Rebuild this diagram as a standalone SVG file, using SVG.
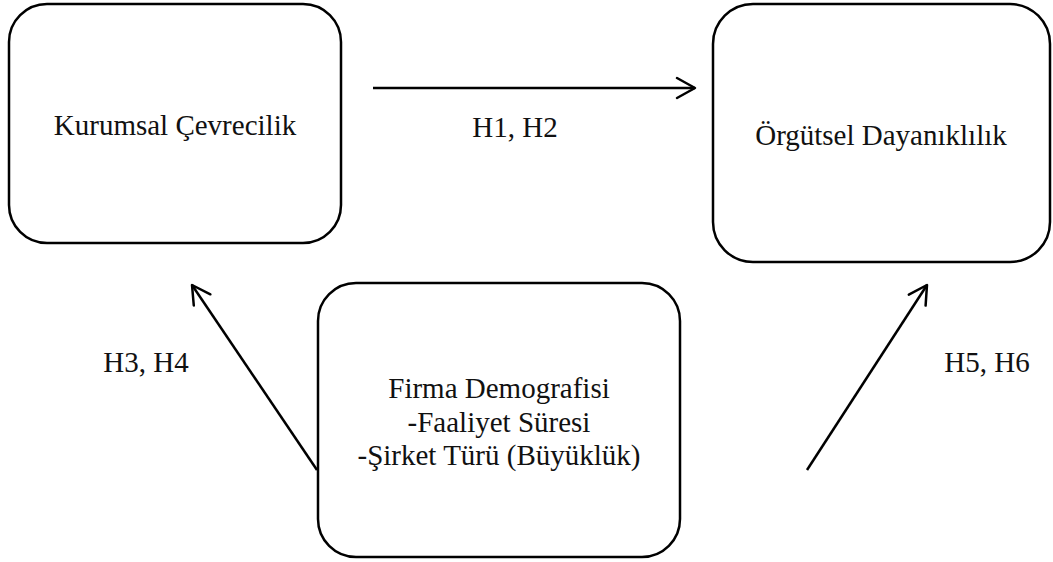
<svg xmlns="http://www.w3.org/2000/svg" width="1053" height="562" viewBox="0 0 1053 562">
<style>
.box{fill:#fff;stroke:#000;stroke-width:2.5}
.t{font-family:"Liberation Serif","Times New Roman",serif;font-size:29px;fill:#111;text-anchor:middle}
.c{fill:none;stroke:#000;stroke-width:2.5}
</style>
<defs>
<marker id="ah" markerUnits="userSpaceOnUse" markerWidth="24" markerHeight="24" refX="20" refY="11" orient="auto" viewBox="0 0 24 22">
<path d="M2,1 L20,11 L2,21" fill="none" stroke="#000" stroke-width="2.5" stroke-linecap="round" stroke-linejoin="round"/>
</marker>
</defs>
<rect width="1053" height="562" fill="#fff"/>
<g id="kurumsal">
<rect class="box" x="9" y="4" width="332" height="239" rx="38" ry="38"/>
<text class="t" x="175" y="135">Kurumsal Çevrecilik</text>
</g>
<g id="orgutsel">
<rect class="box" x="713" y="4" width="337" height="258" rx="40" ry="40"/>
<text class="t" x="881" y="145">Örgütsel Dayanıklılık</text>
</g>
<g id="firma">
<rect class="box" x="318" y="283" width="362" height="274" rx="38" ry="38"/>
<text class="t" x="499" y="398">Firma Demografisi</text>
<text class="t" x="499" y="432">-Faaliyet Süresi</text>
<text class="t" x="499" y="465">-Şirket Türü (Büyüklük)</text>
</g>
<g id="connectors">
<line class="c" x1="373" y1="88" x2="695" y2="88" marker-end="url(#ah)"/>
<line class="c" x1="317" y1="470" x2="192" y2="285" marker-end="url(#ah)"/>
<line class="c" x1="807" y1="470" x2="927" y2="285" marker-end="url(#ah)"/>
<text class="t" x="515" y="137">H1, H2</text>
<text class="t" x="146" y="372">H3, H4</text>
<text class="t" x="987" y="372">H5, H6</text>
</g>
</svg>
